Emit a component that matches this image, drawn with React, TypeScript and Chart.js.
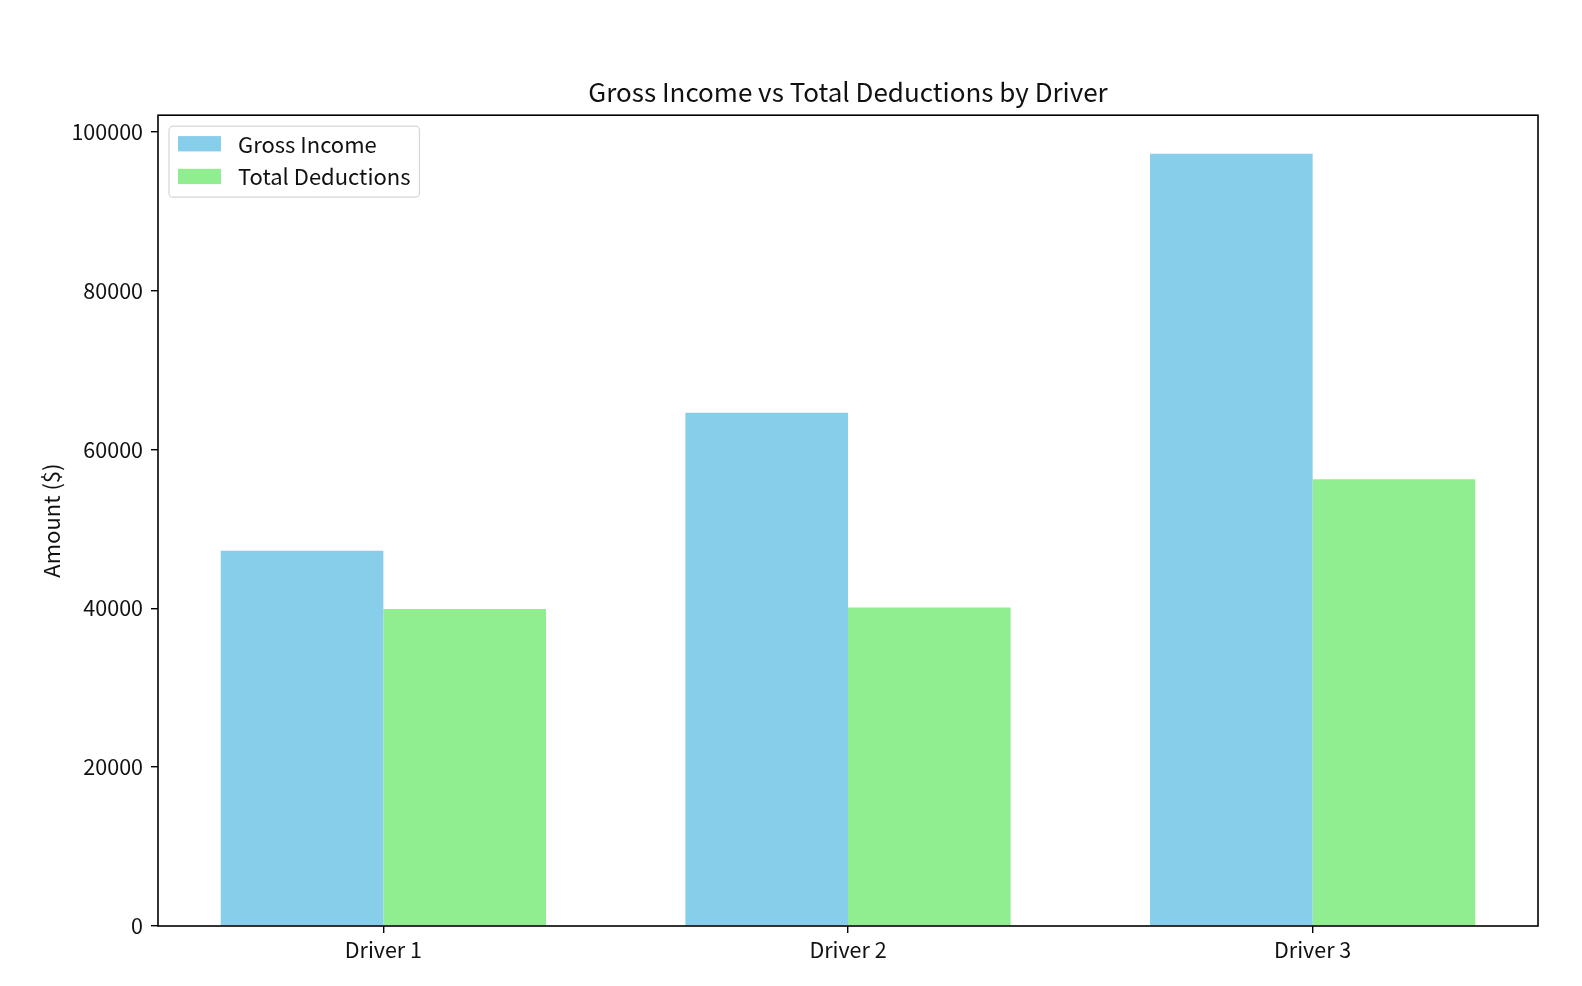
import { useEffect, useRef } from "react"
import { Chart, registerables } from "chart.js"

Chart.register(...registerables)

const drivers = ["Driver 1", "Driver 2", "Driver 3"]
const grossIncome = [47250, 64600, 97200]
const totalDeductions = [39890, 40090, 56230]
const yTicks = [0, 20000, 40000, 60000, 80000, 100000]

const FONT = "'Noto Sans CJK SC', 'Noto Sans', sans-serif"
const TEXT = "#111"

// matplotlib-style frame round the plot area
const framePlugin = {
  id: "frame",
  afterDraw(chart: Chart) {
    const { ctx, chartArea } = chart
    ctx.save()
    ctx.strokeStyle = "#000"
    ctx.lineWidth = 1.6
    ctx.strokeRect(chartArea.left, chartArea.top, chartArea.right - chartArea.left, chartArea.bottom - chartArea.top)
    ctx.restore()
  },
}

// legend box in the upper left corner of the plot
const insideLegend = {
  id: "insideLegend",
  afterDraw(chart: Chart) {
    const { ctx, chartArea } = chart
    const sets = chart.data.datasets
    ctx.save()
    ctx.font = `22px ${FONT}`
    const widths = sets.map((d) => ctx.measureText(String(d.label)).width)
    const x0 = chartArea.left + 11
    const y0 = chartArea.top + 11
    const textX = x0 + 69
    const w = textX - x0 + Math.max(...widths) + 9
    const h = 71

    ctx.beginPath()
    ctx.roundRect(x0, y0, w, h, 4)
    ctx.fillStyle = "rgba(255,255,255,0.8)"
    ctx.fill()
    ctx.strokeStyle = "#d6d6d6"
    ctx.lineWidth = 1.2
    ctx.stroke()

    sets.forEach((d, i) => {
      const cy = y0 + 17.5 + i * 32.7
      ctx.fillStyle = d.backgroundColor as string
      ctx.fillRect(x0 + 9, cy - 7.6, 43, 15.3)
      ctx.fillStyle = TEXT
      ctx.textAlign = "left"
      ctx.textBaseline = "middle"
      ctx.fillText(String(d.label), textX, cy + 0.5)
    })
    ctx.restore()
  },
}

export default function App() {
  const chartRef = useRef<HTMLCanvasElement>(null)
  const chartInstance = useRef<Chart | null>(null)

  useEffect(() => {
    if (!chartRef.current) return
    if (chartInstance.current) chartInstance.current.destroy()
    const ctx = chartRef.current.getContext("2d")
    if (!ctx) return

    const data = {
      datasets: [
        {
          label: "Gross Income",
          data: grossIncome.map((v, i) => ({ x: i, y: v })),
          backgroundColor: "#87CEEB",
          borderWidth: 0,
        },
        {
          label: "Total Deductions",
          data: totalDeductions.map((v, i) => ({ x: i, y: v })),
          backgroundColor: "#90EE90",
          borderWidth: 0,
        },
      ],
    }

    chartInstance.current = new Chart(ctx, {
      type: "bar",
      data: data,
      plugins: [framePlugin, insideLegend],
      options: {
        animation: false,
        responsive: true,
        maintainAspectRatio: false,
        layout: { padding: { left: 0, right: 44, top: 0, bottom: 0 } },
        datasets: {
          bar: { categoryPercentage: 0.7, barPercentage: 1.0 },
        },
        plugins: {
          legend: { display: false },
          tooltip: { enabled: false },
          title: {
            display: true,
            fullSize: false,
            text: "Gross Income vs Total Deductions by Driver",
            color: TEXT,
            font: { family: FONT, size: 26, weight: "normal", lineHeight: 1.2 },
            padding: { top: 77, bottom: 7 },
          },
        },
        scales: {
          x: {
            type: "linear",
            min: -0.485,
            max: 2.485,
            offset: false,
            afterBuildTicks: (scale) => {
              scale.ticks = drivers.map((_, i) => ({ value: i }))
            },
            afterFit: (scale) => {
              scale.height = 60
            },
            grid: {
              display: true,
              drawOnChartArea: false,
              drawTicks: true,
              tickLength: 7,
              color: "#000",
              lineWidth: 1.4,
              offset: false,
            },
            border: { display: false },
            ticks: {
              color: TEXT,
              font: { family: FONT, size: 21.5 },
              padding: 4,
              maxRotation: 0,
              autoSkip: false,
              callback: (v) => drivers[Number(v)] ?? "",
            },
          },
          y: {
            min: 0,
            max: 102060,
            afterBuildTicks: (scale) => {
              scale.ticks = yTicks.map((v) => ({ value: v }))
            },
            afterFit: (scale) => {
              scale.width = 158
            },
            grid: {
              display: true,
              drawOnChartArea: false,
              drawTicks: true,
              tickLength: 7,
              color: "#000",
              lineWidth: 1.4,
            },
            border: { display: false },
            ticks: {
              color: TEXT,
              font: { family: FONT, size: 21.5 },
              padding: 8,
              callback: (v) => String(v),
            },
            title: {
              display: true,
              text: "Amount ($)",
              color: TEXT,
              font: { family: FONT, size: 22, lineHeight: 1.2 },
              padding: { top: 38, bottom: 0 },
            },
          },
        },
      },
    })

    return () => {
      if (chartInstance.current) {
        chartInstance.current.destroy()
        chartInstance.current = null
      }
    }
  }, [])

  return (
    <div style={{ position: "fixed", left: 0, top: 0, width: 1582, height: 986, background: "#fff" }}>
      <canvas ref={chartRef} />
    </div>
  )
}
